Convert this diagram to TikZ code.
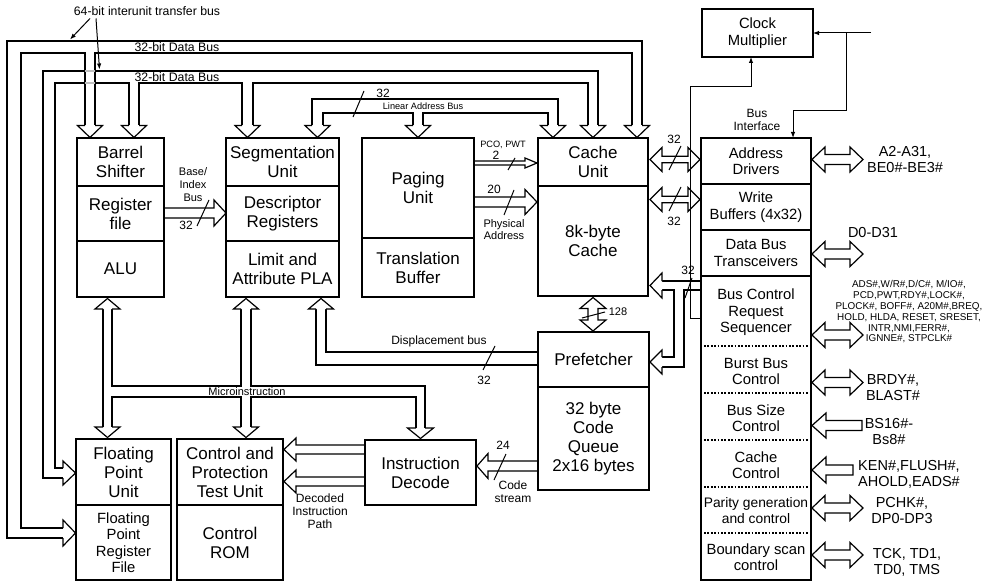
\documentclass[tikz,border=0pt]{standalone}
\usepackage{fontspec}
\setmainfont{Liberation Sans}
\usetikzlibrary{arrows.meta}
\newcommand\fsA{\fontsize{17}{19}\selectfont}
\newcommand\fsB{\fontsize{14.8}{16.5}\selectfont}
\newcommand\fsBs{\fontsize{13.8}{15.5}\selectfont}
\newcommand\fsC{\fontsize{14.5}{16}\selectfont}
\newcommand\fsD{\fontsize{12}{13}\selectfont}
\newcommand\fsDs{\fontsize{11}{12.8}\selectfont}
\newcommand\fsE{\fontsize{9.9}{10.8}\selectfont}
\newcommand\fsF{\fontsize{9.2}{10}\selectfont}
\newcommand\fsG{\fontsize{12.3}{13}\selectfont}
% heads: open arrowheads on double-line buses
\newcommand\BusHeadV[5]{\filldraw[busln,fill=white] ({#1-#4},#2) -- ({#1-#5},#2) -- (#1,#3) -- ({#1+#5},#2) -- ({#1+#4},#2);}
\newcommand\BusHeadH[5]{\filldraw[busln,fill=white] (#2,{#1-#4}) -- (#2,{#1-#5}) -- (#3,#1) -- (#2,{#1+#5}) -- (#2,{#1+#4});}
% fat arrows: yc, x-left, x-right, shaft half, head half, head length
\newcommand\FatR[6]{\filldraw[busln,fill=white] (#2,{#1-#4}) -- ({#3-#6},{#1-#4}) -- ({#3-#6},{#1-#5}) -- (#3,#1) -- ({#3-#6},{#1+#5}) -- ({#3-#6},{#1+#4}) -- (#2,{#1+#4}) -- cycle;}
\newcommand\FatL[6]{\filldraw[busln,fill=white] (#3,{#1-#4}) -- ({#2+#6},{#1-#4}) -- ({#2+#6},{#1-#5}) -- (#2,#1) -- ({#2+#6},{#1+#5}) -- ({#2+#6},{#1+#4}) -- (#3,{#1+#4}) -- cycle;}
\newcommand\FatLR[6]{\filldraw[busln,fill=white] (#2,#1) -- ({#2+#6},{#1-#5}) -- ({#2+#6},{#1-#4}) -- ({#3-#6},{#1-#4}) -- ({#3-#6},{#1-#5}) -- (#3,#1) -- ({#3-#6},{#1+#5}) -- ({#3-#6},{#1+#4}) -- ({#2+#6},{#1+#4}) -- ({#2+#6},{#1+#5}) -- cycle;}
% vertical double: xc, y-top tip, y-bottom tip, s, h, L
\newcommand\FatUD[6]{\filldraw[busln,fill=white] (#1,#2) -- ({#1+#5},{#2+#6}) -- ({#1+#4},{#2+#6}) -- ({#1+#4},{#3-#6}) -- ({#1+#5},{#3-#6}) -- (#1,#3) -- ({#1-#5},{#3-#6}) -- ({#1-#4},{#3-#6}) -- ({#1-#4},{#2+#6}) -- ({#1-#5},{#2+#6}) -- cycle;}
\tikzset{
 busln/.style={line width=1.2pt, line join=miter},
 thinln/.style={line width=1pt},
 box/.style={draw, line width=2.8pt, fill=white, inner sep=0pt, outer sep=0pt, align=center, anchor=north west},
 lbl/.style={inner sep=0pt, align=center},
 tipped/.style={-{Latex[length=6pt,width=4.5pt]}},
 dotsep/.style={line width=2.4pt, dash pattern=on 1.8pt off 1.6pt},
}
\begin{document}
\begin{tikzpicture}[x=1pt,y=-1pt]
\useasboundingbox (0,0) rectangle (986,583);
\fill[white] (0,0) rectangle (986,583);

% ---------------- 64-bit interunit transfer bus (two 32-bit data buses)
% bus 1
\draw[busln] (63,538) -- (7,538) -- (7,41) -- (642,41) -- (642,125.5);
\draw[busln] (63,528) -- (21,528) -- (21,53) -- (85,53) -- (85,125.5);
\draw[busln] (95,125.5) -- (95,53) -- (632,53) -- (632,125.5);
% bus 2
\draw[busln] (63,478) -- (43,478) -- (43,71) -- (85,71);
\draw[busln] (95,71) -- (598,71) -- (598,125.5);
\draw[busln] (63,468) -- (55,468) -- (55,83) -- (85,83);
\draw[busln] (95,83) -- (129,83) -- (129,125.5);
\draw[busln] (139,125.5) -- (139,83) -- (242,83) -- (242,125.5);
\draw[busln] (253,125.5) -- (253,83) -- (588,83) -- (588,125.5);
\draw[busln,black!25] (85,71) -- (95,71) (85,83) -- (95,83);
% linear address bus
\draw[busln] (312,125.5) -- (312,99) -- (558,99) -- (558,125.5);
\draw[busln] (323,125.5) -- (323,113) -- (413,113) -- (413,125.5);
\draw[busln] (423,125.5) -- (423,113) -- (548,113) -- (548,125.5);
% heads of the top buses
\BusHeadV{90}{125.5}{137.5}{5}{12.5}
\BusHeadV{134}{125.5}{137.5}{5}{12.5}
\BusHeadV{247.5}{125.5}{137.5}{5.5}{12.5}
\BusHeadV{317.5}{125.5}{137.5}{5.5}{12.5}
\BusHeadV{418}{125.5}{137.5}{5}{12.5}
\BusHeadV{553}{125.5}{137.5}{5}{12.5}
\BusHeadV{593}{125.5}{137.5}{5}{12.5}
\BusHeadV{637}{125.5}{137.5}{5}{12.5}
\BusHeadH{473}{63}{75.5}{5}{12}
\BusHeadH{533}{63}{75.5}{5}{13}

% ---------------- microinstruction bus
\draw[busln] (103,309) -- (103,427);
\draw[busln] (112,309) -- (112,386) -- (241,386) -- (241,309);
\draw[busln] (112,427) -- (112,397) -- (241,397) -- (241,427);
\draw[busln] (251,309) -- (251,386) -- (425,386) -- (425,428);
\draw[busln] (251,427) -- (251,397) -- (416,397) -- (416,428);
\BusHeadV{107.5}{309}{298.5}{4.5}{12.5}
\BusHeadV{107.5}{427}{437.5}{4.5}{12.5}
\BusHeadV{246}{309}{298.5}{5}{12.5}
\BusHeadV{246}{427}{437.5}{5}{12.5}
\BusHeadV{420.5}{428}{438.5}{4.5}{13}

% ---------------- displacement bus
\draw[busln] (537,352) -- (326,352) -- (326,309);
\draw[busln] (537,365) -- (316,365) -- (316,309);
\BusHeadV{321}{309}{298.5}{5}{12.5}

% ---------------- data bus from bus interface to cache and prefetcher
\draw[busln] (701,281) -- (662,281);
\draw[busln] (662,290) -- (674,290) -- (674,357) -- (662,357);
\draw[busln] (662,367) -- (684,367) -- (684,290) -- (701,290);
\BusHeadH{285.5}{662}{650}{4.5}{12.5}
\BusHeadH{362}{662}{650}{5}{12}

% ---------------- fat arrows
\FatLR{159.5}{650}{700}{3.3}{12}{12}
\FatLR{199.5}{650}{700}{3.3}{12}{12}
\FatR{163}{474}{537}{2}{5}{12}
\FatR{202}{474}{537}{5}{12.5}{12}
\FatR{213}{164}{226}{5}{13}{12}
\FatL{466}{477}{538}{5}{12.5}{11}
\FatL{449.5}{284}{365}{4.5}{11.5}{12}
\FatL{481.5}{284}{365}{4.5}{11.5}{12}
\FatUD{593}{297.5}{331}{5}{13}{11}
% external pins
\FatLR{159.5}{812}{863}{5}{12.5}{13}
\FatLR{254}{812}{863}{5}{12.5}{13}
\FatLR{335}{812}{863}{5}{12.5}{13}
\FatLR{382.5}{812}{863}{5}{12.5}{13}
\FatL{425.5}{812}{862}{5}{12.5}{14}
\FatL{470}{812}{853}{5}{13}{14}
\FatLR{508}{812}{863}{5}{12.5}{13}
\FatLR{555}{812}{863}{5}{12.5}{13}

% ---------------- boxes
\node[box, minimum width=87pt, minimum height=48pt, font=\fsA] (barrel) at (77,138) {Barrel\\Shifter};
\node[box, minimum width=87pt, minimum height=55pt, font=\fsA] (regf) at (77,186) {Register\\file};
\node[box, minimum width=87pt, minimum height=56pt, font=\fsA] (alu) at (77,241) {ALU};
\node[box, minimum width=113pt, minimum height=48pt, font=\fsA] (seg) at (226,138) {Segmentation\\Unit};
\node[box, minimum width=113pt, minimum height=55pt, font=\fsA] (desc) at (226,186) {Descriptor\\Registers};
\node[box, minimum width=113pt, minimum height=56pt, font=\fsA] (limit) at (226,241) {Limit and\\Attribute PLA};
\node[box, minimum width=112pt, minimum height=100pt, font=\fsA] (paging) at (362,138) {Paging\\Unit};
\node[box, minimum width=112pt, minimum height=59pt, font=\fsA] (tlb) at (362,238) {Translation\\Buffer};
\node[box, minimum width=110pt, minimum height=48pt, font=\fsA] (cunit) at (538,138) {Cache\\Unit};
\node[box, minimum width=110pt, minimum height=110pt, font=\fsA] (cache) at (538,186) {8k-byte\\Cache};
\node[box, minimum width=111pt, minimum height=55pt, font=\fsA] (pref) at (538,332) {Prefetcher};
\node[box, minimum width=111pt, minimum height=103pt, font=\fsA] (cq) at (538,387) {32 byte\\Code\\Queue\\2x16 bytes};
\node[box, minimum width=111pt, minimum height=65pt, font=\fsA] (idec) at (365,440) {Instruction\\Decode};
\node[box, minimum width=95pt, minimum height=66pt, font=\fsA] (fpu) at (76,439) {Floating\\Point\\Unit};
\node[box, minimum width=95pt, minimum height=75pt, font=\fsB] (fprf) at (76,505) {Floating\\Point\\Register\\File};
\node[box, minimum width=106pt, minimum height=66pt, font=\fsA] (ctl) at (177,439) {Control and\\Protection\\Test Unit};
\node[box, minimum width=106pt, minimum height=75pt, font=\fsA] (crom) at (177,505) {Control\\ROM};
\node[box, minimum width=110pt, minimum height=46pt, font=\fsB] (addr) at (701,138) {Address\\Drivers};
\node[box, minimum width=110pt, minimum height=46pt, font=\fsB] (wbuf) at (701,184) {Write\\Buffers (4x32)};
\node[box, minimum width=110pt, minimum height=46pt, font=\fsB] (dbt) at (701,230) {Data Bus\\Transceivers};
\node[box, minimum width=110pt, minimum height=304pt] (bctl) at (701,276) {};
\node[box, minimum width=111pt, minimum height=48pt, font=\fsB] (clkm) at (702,9) {Clock\\Multiplier};

% sub-sections of the bus control box
\draw[dotsep] (704,346) -- (808,346);
\draw[dotsep] (704,393) -- (808,393);
\draw[dotsep] (704,440) -- (808,440);
\draw[dotsep] (704,487) -- (808,487);
\draw[dotsep] (704,533) -- (808,533);
\node[lbl, font=\fsB] (bcrs) at (756,312.5) {Bus Control\\Request\\Sequencer};
\node[lbl, font=\fsB] (bbc) at (756,371.5) {Burst Bus\\Control};
\node[lbl, font=\fsB] (bsc) at (756,418) {Bus Size\\Control};
\node[lbl, font=\fsB] (ccc) at (756,465) {Cache\\Control};
\node[lbl, font=\fsBs] (pgc) at (756,510.5) {Parity generation\\and control};
\node[lbl, font=\fsB] (bsn) at (756,557) {Boundary scan\\control};

% ---------------- clock lines
\coordinate (clkin) at (871,33);
\coordinate (j1) at (846,33);
\coordinate (j2) at (793,111);
\draw[thinln, tipped] (clkin) -- (clkm.east);
\draw[thinln, tipped] (j1) |- (j2) -- (j2 |- addr.north);
\coordinate (c1) at (690,318);
\coordinate (c2) at (751,87);
\draw[thinln, tipped] (bctl.west |- c1) -- (c1) |- (c2) -- (c2 |- clkm.south);

% ---------------- labels
\node[lbl, font=\fsG] (t64) at (147,11) {64-bit interunit transfer bus};
\coordinate (s1) at (90,18.5);
\coordinate (s2) at (96,18.5);
\coordinate (e1) at (70,39.5);
\coordinate (e2) at (99.5,69.5);
\draw[thinln, tipped] (s1) -- (e1);
\draw[thinln, tipped] (s2) -- (e2);
\node[lbl, font=\fsG] (db1) at (177,47) {32-bit Data Bus};
\node[lbl, font=\fsG] (db2) at (177,77) {32-bit Data Bus};
\node[lbl, font=\fsF] (lab) at (423,106) {Linear Address Bus};
\node[lbl, font=\fsD] (n32a) at (383,93) {32};
\node[lbl, font=\fsDs] (bib) at (193,184.5) {Base/\\Index\\Bus};
\node[lbl, font=\fsD] (n32b) at (186,225) {32};
\node[lbl, font=\fsF] (pco) at (503,145) {PCO, PWT};
\node[lbl, font=\fsD] (n2) at (496,155) {2};
\node[lbl, font=\fsD] (n20) at (494,189) {20};
\node[lbl, font=\fsDs] (phys) at (504,229.5) {Physical\\Address};
\node[lbl, font=\fsD] (n32c) at (674,139) {32};
\node[lbl, font=\fsD] (n32d) at (674,221) {32};
\node[lbl, font=\fsD] (n32e) at (688,270) {32};
\node[lbl, font=\fsD] (busif) at (757,119.5) {Bus\\Interface};
\node[lbl, font=\fsDs] (n128) at (618,312) {128};
\node[lbl, font=\fsD] (disp) at (439,341) {Displacement bus};
\node[lbl, font=\fsD] (n32f) at (484,380) {32};
\node[lbl, font=\fsDs] (micro) at (247,392) {Microinstruction};
\node[lbl, font=\fsD] (n24) at (503,445) {24};
\node[lbl, font=\fsD] (cstr) at (513,492) {Code\\stream};
\node[lbl, font=\fsD] (dip) at (320,511) {Decoded\\Instruction\\Path};

% pin labels
\node[lbl, font=\fsC] (pa) at (905,160) {A2-A31,\\BE0\#-BE3\#};
\node[lbl, font=\fsC] (pd) at (873,233) {D0-D31};
\node[lbl, font=\fsE] (pads) at (909,312) {ADS\#,W/R\#,D/C\#, M/IO\#,\\PCD,PWT,RDY\#,LOCK\#,\\PLOCK\#, BOFF\#, A20M\#,BREQ,\\HOLD, HLDA, RESET, SRESET,\\INTR,NMI,FERR\#,\\IGNNE\#, STPCLK\#};
\node[lbl, font=\fsC] (pb) at (893,387.5) {BRDY\#,\\BLAST\#};
\node[lbl, font=\fsC] (ps) at (889,431.5) {BS16\#-\\Bs8\#};
\node[lbl, font=\fsC] (pk) at (909,474.5) {KEN\#,FLUSH\#,\\AHOLD,EADS\#};
\node[lbl, font=\fsC] (pp) at (902,510.5) {PCHK\#,\\DP0-DP3};
\node[lbl, font=\fsC] (pt) at (907,562) {TCK, TD1,\\TD0, TMS};

% ---------------- bus width slashes
\draw[thinln] (364,91) -- (353,117);
\draw[thinln] (209,200) -- (197,226);
\draw[thinln] (515,158) -- (508,170);
\draw[thinln] (514,190) -- (504,215);
\draw[thinln] (681,146) -- (669,170);
\draw[thinln] (681,187) -- (669,211);
\draw[thinln] (692,278) -- (685,298);
\draw[thinln] (582,318) -- (605,312);
\draw[thinln] (495,346) -- (483,370);
\draw[thinln] (506,454) -- (494,480);
\end{tikzpicture}
\end{document}
